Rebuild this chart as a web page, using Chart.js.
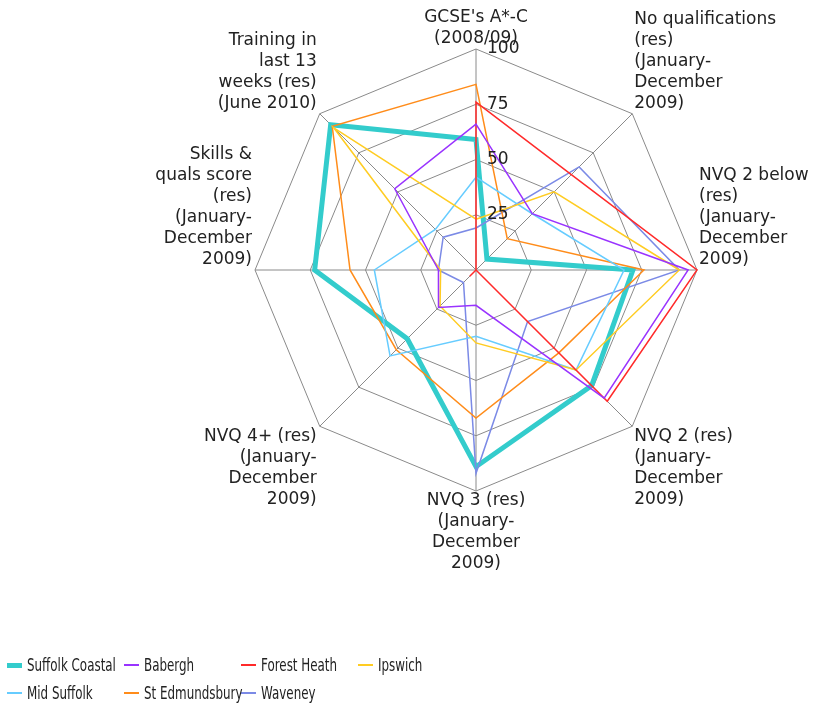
<!DOCTYPE html>
<html lang="en">
  <head>
    <meta charset="UTF-8" />
    <title>Skills and qualifications radar</title>
    <style>
      body {
        margin: 0;
        background: #fff;
      }
      #wrap {
        position: relative;
        width: 823px;
        height: 709px;
      }
      #legend {
        position: absolute;
        left: 7px;
        top: 654px;
        display: grid;
        grid-template-columns: repeat(4, 117px);
        row-gap: 6px;
        font-family: 'DejaVu Sans', sans-serif;
        font-size: 17px;
        color: #222;
      }
      .item {
        display: flex;
        align-items: center;
        height: 22px;
        white-space: nowrap;
      }
      .mark {
        width: 15px;
        margin-right: 5px;
        flex: none;
      }
      .item span {
        display: inline-block;
        transform: scaleX(0.7);
        transform-origin: left center;
      }
    </style>
  </head>
  <body>
    <div id="wrap">
      <canvas id="radar"></canvas>
      <div id="legend"></div>
    </div>

    <script src="https://cdn.jsdelivr.net/npm/chart.js"></script>
    <script>
      // axes, clockwise from the top
      const axisLabels = [
        ["GCSE's A*-C", '(2008/09)'],
        ['No qualifications', '(res)', '(January-', 'December', '2009)'],
        ['NVQ 2 below', '(res)', '(January-', 'December', '2009)'],
        ['NVQ 2 (res)', '(January-', 'December', '2009)'],
        ['NVQ 3 (res)', '(January-', 'December', '2009)'],
        ['NVQ 4+ (res)', '(January-', 'December', '2009)'],
        ['Skills &', 'quals score', '(res)', '(January-', 'December', '2009)'],
        ['Training in', 'last 13', 'weeks (res)', '(June 2010)'],
      ];

      const districts = [
        'Suffolk Coastal',
        'Babergh',
        'Forest Heath',
        'Ipswich',
        'Mid Suffolk',
        'St Edmundsbury',
        'Waveney',
      ];

      const suffolkCoastal = [59, 7, 71, 74, 89, 44, 73, 93];
      const babergh = [66, 36, 96, 82, 16, 24, 17, 52];
      const forestHeath = [76, 61, 100, 84, 0, 4, 0, 0];
      const ipswich = [23, 50, 92, 64, 33, 23, 16, 91];
      const midSuffolk = [42, 36, 67, 64, 30, 55, 46, 26];
      const stEdmundsbury = [84, 20, 76, 53, 67, 51, 57, 92];
      const waveney = [19, 66, 92, 33, 92, 8, 17, 21];

      const seriesValues = [
        suffolkCoastal,
        babergh,
        forestHeath,
        ipswich,
        midSuffolk,
        stEdmundsbury,
        waveney,
      ];

      const scaleMin = 0;
      const scaleMax = 100;
      const tickStep = 25;

      const colors = [
        '#33cccc',
        '#9933ff',
        '#ff2a2a',
        '#ffcc22',
        '#66ccff',
        '#ff8c1a',
        '#7b8ae6',
      ];
      const widths = [5, 1.5, 1.5, 1.5, 1.5, 1.5, 1.5];

      const datasets = districts.map((name, i) => ({
        label: name,
        data: seriesValues[i],
        borderColor: colors[i],
        backgroundColor: colors[i],
        borderWidth: widths[i],
        fill: false,
        pointRadius: 0,
        pointHoverRadius: 0,
        tension: 0,
        order: i === 0 ? 1 : 0,
      }));

      const textFont = '17px "DejaVu Sans"';
      const lineH = 21;

      // spoke labels and tick numbers drawn next to the polygon
      const radarText = {
        id: 'radarText',
        afterDraw(chart) {
          const scale = chart.scales.r;
          const ctx = chart.ctx;
          ctx.save();
          ctx.font = textFont;
          ctx.fillStyle = '#222';
          ctx.textBaseline = 'middle';

          ctx.textAlign = 'left';
          scale.ticks.forEach((t) => {
            if (t.value === scaleMin) return;
            const y = scale.yCenter - scale.getDistanceFromCenterForValue(t.value);
            ctx.fillText(t.label, scale.xCenter + 11, y);
          });

          axisLabels.forEach((lines, i) => {
            const p = scale.getPointPosition(i, scale.drawingArea);
            const dx = p.x - scale.xCenter;
            const dy = p.y - scale.yCenter;
            let x = p.x;
            ctx.textAlign = 'center';
            if (dx > 1) {
              ctx.textAlign = 'left';
              x = p.x + 2;
            } else if (dx < -1) {
              ctx.textAlign = 'right';
              x = p.x - 3;
            }
            let y0 = dy > 1 ? p.y + 10 : p.y - 10 - (lines.length - 1) * lineH;
            lines.forEach((line, k) => {
              ctx.fillText(line, x, y0 + k * lineH);
            });
          });
          ctx.restore();
        },
      };

      new Chart(document.getElementById('radar'), {
        type: 'radar',
        data: { labels: axisLabels, datasets: datasets },
        options: {
          responsive: true,
          maintainAspectRatio: false,
          animation: false,
          layout: {
            padding: { left: 255, right: 126, top: 49, bottom: 217 },
          },
          plugins: {
            legend: { display: false },
            tooltip: { enabled: false },
          },
          scales: {
            r: {
              min: scaleMin,
              max: scaleMax,
              ticks: { stepSize: tickStep, display: false },
              grid: { circular: false, color: '#8a8a8a', lineWidth: 1 },
              angleLines: { color: '#8a8a8a', lineWidth: 1 },
              pointLabels: { display: false },
            },
          },
        },
        plugins: [radarText],
      });

      // legend laid out in a fixed grid like the original
      const legend = document.getElementById('legend');
      legend.innerHTML = districts
        .map(
          (name, i) =>
            `<div class="item"><div class="mark" style="height:${i === 0 ? 5 : 2}px;background:${colors[i]}"></div><span>${name}</span></div>`
        )
        .join('');
    </script>
  </body>
</html>
